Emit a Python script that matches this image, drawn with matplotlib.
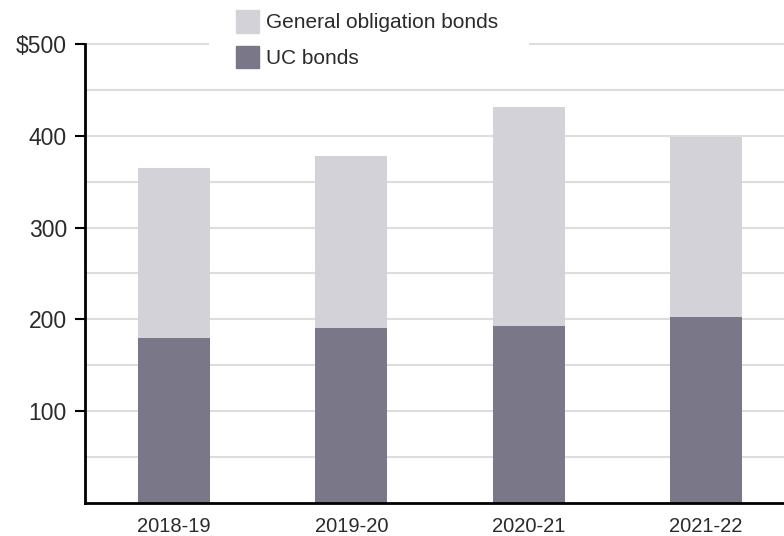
import matplotlib.pyplot as plt
import matplotlib.patches as mpatches
import numpy as np

plt.rcParams['font.family'] = ['Liberation Sans', 'DejaVu Sans']

### Data (millions of dollars)
years = ['2018-19', '2019-20', '2020-21', '2021-22']
uc_bonds = [180, 190, 193, 203]
go_bonds = [185, 188, 238.5, 196]

uc_color = '#7a7888'
go_color = '#d3d2d8'
text_color = '#2b2b2b'

fig = plt.figure(figsize=(7.84, 5.36), dpi=100)
ax = fig.add_axes([85 / 784, 1 - 502.7 / 536, 699 / 784, (502.7 - 43.3) / 536])

x = np.arange(len(years))
ax.bar(x, uc_bonds, width=0.406, color=uc_color, zorder=2)
ax.bar(x, go_bonds, width=0.406, bottom=uc_bonds, color=go_color, zorder=2)

ax.set_xlim(-0.502, 3.44)
ax.set_ylim(0, 501)

# Gridlines every 50, labels every 100
for v in range(50, 501, 50):
    ax.axhline(v, color='#dddddd', linewidth=1.5, zorder=1)

ax.set_yticks([100, 200, 300, 400, 500])
ax.set_yticklabels(['100', '200', '300', '400', '$500'])
ax.set_xticks(x)
ax.set_xticklabels(years)

ax.tick_params(axis='y', length=7, width=1.5, color='black', labelsize=16.5,
               labelcolor=text_color, pad=6)
ax.tick_params(axis='x', length=0, labelsize=14.5, labelcolor=text_color, pad=10)

for s in ['top', 'right']:
    ax.spines[s].set_visible(False)
ax.spines['left'].set_bounds(0, 500)
ax.spines['left'].set_linewidth(2)
ax.spines['bottom'].set_linewidth(2)

# White strip behind the legend, hiding the top gridline
fig.patches.append(mpatches.Rectangle((209 / 784, 1 - 62 / 536), 320 / 784, 62 / 536,
                                      transform=fig.transFigure, facecolor='white',
                                      edgecolor='none', zorder=1))

handles = [mpatches.Patch(color=go_color, label='General obligation bonds'),
           mpatches.Patch(color=uc_color, label='UC bonds')]
leg = fig.legend(handles=handles, loc='upper left',
                 bbox_to_anchor=(236 / 784, 1 - 10 / 536),
                 frameon=False, fontsize=15, handlelength=1.1, handleheight=1.3,
                 handletextpad=0.35, labelspacing=0.62, borderpad=0,
                 borderaxespad=0)
leg.set_zorder(5)
for t in leg.get_texts():
    t.set_color(text_color)

fig.savefig('out.png', dpi=100)
